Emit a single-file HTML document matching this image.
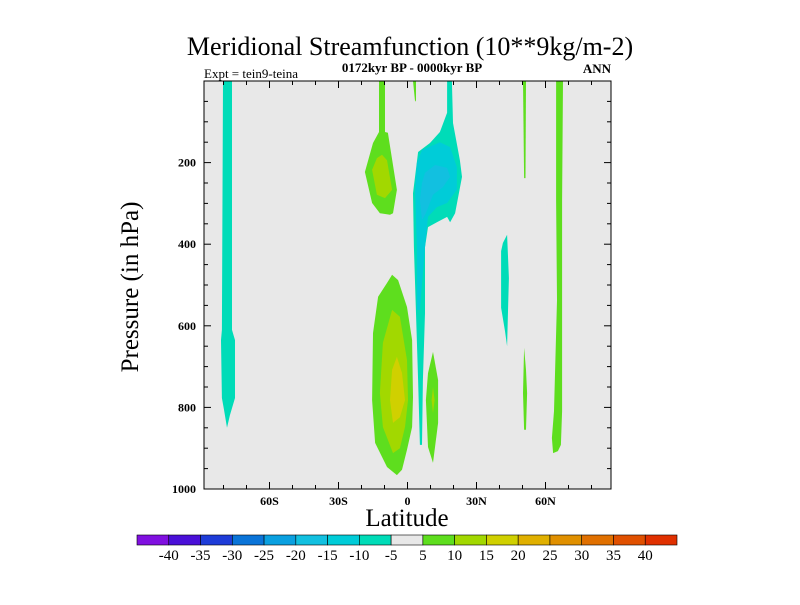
<!DOCTYPE html>
<html><head><meta charset="utf-8"><style>
body{margin:0;background:#fff;width:800px;height:600px;overflow:hidden}
svg{font-family:"Liberation Serif",serif}
</style></head><body>
<svg id="c" width="800" height="600" xmlns="http://www.w3.org/2000/svg">
<text x="410" y="55" text-anchor="middle" font-size="26">Meridional Streamfunction (10**9kg/m-2)</text>
<text x="412" y="72" text-anchor="middle" font-size="13" font-weight="bold">0172kyr BP - 0000kyr BP</text>
<text x="204" y="78" font-size="13">Expt = tein9-teina</text>
<text x="611" y="73" text-anchor="end" font-size="13" font-weight="bold">ANN</text>
<text x="407" y="526" text-anchor="middle" font-size="25">Latitude</text>
<text transform="translate(138,287) rotate(-90)" text-anchor="middle" font-size="25">Pressure (in hPa)</text>
<g id="plot"></g>
<g id="bar"></g>
</svg>
<script>
const xTickVals=[-60,-30,0,30,60];
const xTickLabels=["60S","30S","0","30N","60N"];
const yTickVals=[200,400,600,800,1000];
const levelColors=["#8010e0","#4a10d8","#1e3cd8","#0a74d8","#0aa0e0","#12c0e0","#00ccd8","#00dcb8","#e8e8e8","#5ede1e","#a2d800","#d0d000","#e0b000","#e09000","#e07000","#e05000","#e03000"];
const barLabels=["-40","-35","-30","-25","-20","-15","-10","-5","5","10","15","20","25","30","35","40"];
// contour regions: level index into levelColors, vertices [lat, hPa]
const regionLevels=[7,9,10,7,9,6,5,9,10,11,9,10,9,9,7,9];
const regionNames=["sh-polar-negative","upper-tropical-positive","upper-tropical-positive-core","upper-ne-negative","upper-drip-positive","upper-ne-negative-mid","upper-ne-negative-core","lower-hadley-positive","lower-hadley-positive-mid","lower-hadley-positive-core","lower-nh-positive","lower-nh-positive-core","nh-thin-upper","nh-thin-lower","nh-mid-negative","nh-60n-positive"];
const regionPts=[
[[-80.2,0],[-76.3,0],[-76.3,610],[-75,635],[-75,777],[-77.2,819],[-78.5,850],[-79.8,806],[-80.7,777],[-81.1,635],[-80.7,610]],
[[-12.4,0],[-9.8,0],[-9.8,125],[-8.5,127],[-4.6,267],[-6.3,324],[-7.6,328],[-12.0,324],[-15.4,299],[-18.5,223],[-15.0,152],[-12.4,125]],
[[-11.1,181],[-8.9,194],[-6.7,267],[-9.8,287],[-13.3,279],[-15.4,218],[-13.3,189]],
[[17.2,0],[19.3,0],[19.8,103],[22.8,194],[23.7,235],[20.7,324],[18.5,346],[17.2,333],[12.8,346],[8.9,358],[7.6,407],[7.6,569],[6.7,733],[6.3,892],[5.4,892],[4.6,733],[3.7,569],[2.8,407],[2.4,275],[4.6,174],[9.8,152],[14.1,125],[17.2,78]],
[[2.4,0],[3.7,0],[3.7,47],[3.3,51]],
[[6.3,169],[14.1,150],[18.5,162],[21.5,211],[21.5,267],[17.2,299],[12.8,309],[8.9,333],[7.6,407],[5.4,561],[4.1,561],[4.1,407],[3.3,267],[4.1,201]],
[[7.6,225],[12.0,206],[17.2,213],[18.5,235],[15.4,260],[11.1,279],[8.0,324],[6.3,341],[5.4,292],[6.3,250]],
[[-6.7,475],[-4.1,488],[-0.2,554],[2.0,635],[2.4,775],[2.0,848],[-0.2,904],[-2.4,953],[-4.6,966],[-8.9,946],[-14.1,887],[-15.4,782],[-15.0,618],[-12.8,529],[-8.9,495]],
[[-6.7,561],[-3.3,578],[-0.2,684],[0.2,782],[-1.1,848],[-3.3,900],[-6.3,912],[-10.7,848],[-12.0,765],[-10.7,642]],
[[-4.6,676],[-2.4,716],[-1.1,782],[-3.3,824],[-6.3,838],[-7.6,782],[-6.7,708]],
[[11.1,664],[13.3,733],[13.3,838],[11.1,936],[8.9,897],[8.0,782],[8.9,716]],
[[11.1,750],[11.8,782],[11.1,814],[10.5,782]],
[[50.2,0],[51.5,0],[51.3,238],[50.7,238]],
[[50.7,654],[51.5,708],[52.0,765],[51.5,855],[50.7,855],[50.2,765]],
[[43.3,377],[44.1,483],[43.7,564],[43.3,650],[42.4,613],[40.7,556],[40.7,417],[41.5,397]],
[[64.6,0],[67.6,0],[67.2,292],[67.2,809],[66.7,892],[65.4,907],[63.3,912],[62.8,875],[63.7,809],[65.0,537],[64.6,292]]
];
const NS="http://www.w3.org/2000/svg";
const L=204,R=611,T=81,B=489;
const xs=lat=>407.5+lat*2.3;
const ys=p=>T+(p/1000)*(B-T);
function mk(tag,attrs,parent){const e=document.createElementNS(NS,tag);for(const k in attrs)e.setAttribute(k,attrs[k]);parent.appendChild(e);return e;}
const plot=document.getElementById('plot');
const bg=mk('rect',{x:L,y:T,width:R-L,height:B-T,fill:'#e8e8e8'},plot);


regionPts.forEach((pts,i)=>{
  const pg=mk('polygon',{points:pts.map(v=>xs(v[0]).toFixed(1)+','+ys(v[1]).toFixed(1)).join(' '),fill:levelColors[regionLevels[i]]},plot);
  
  
});
const fr=mk('rect',{x:L,y:T,width:R-L,height:B-T,fill:'none',stroke:'#000','stroke-width':1},plot);


// minor x ticks every 10 deg
for(let lat=-80;lat<=80;lat+=10){
  const major=lat%30===0;const len=major?7:4;
  mk('line',{x1:xs(lat),x2:xs(lat),y1:B,y2:B-len,stroke:'#000'},plot);
  mk('line',{x1:xs(lat),x2:xs(lat),y1:T,y2:T+len,stroke:'#000'},plot);
}
xTickVals.forEach((v,i)=>{
  const t=mk('text',{x:xs(v),y:505,'text-anchor':'middle','font-size':12,'font-weight':'bold'},plot);
  t.textContent=xTickLabels[i];
  
  
});
for(let p=50;p<1000;p+=50){
  const major=p%200===0;const len=major?7:4;
  mk('line',{x1:L,x2:L+len,y1:ys(p),y2:ys(p),stroke:'#000'},plot);
  mk('line',{x1:R,x2:R-len,y1:ys(p),y2:ys(p),stroke:'#000'},plot);
}
yTickVals.forEach(v=>{
  const t=mk('text',{x:196,y:ys(v)+4,'text-anchor':'end','font-size':12,'font-weight':'bold'},plot);
  t.textContent=String(v);
  
  
});
const bar=document.getElementById('bar');
const bx=137,bw=540,by=535,bh=10,n=levelColors.length;
levelColors.forEach((c,i)=>{
  const r=mk('rect',{x:bx+i*bw/n,y:by,width:bw/n,height:bh,fill:c,stroke:'#000','stroke-width':0.6},bar);
  
  
});
barLabels.forEach((s,i)=>{
  const t=mk('text',{x:bx+(i+1)*bw/n,y:560,'text-anchor':'middle','font-size':15},bar);
  t.textContent=s;
  
  
});
</script>
</body></html>
